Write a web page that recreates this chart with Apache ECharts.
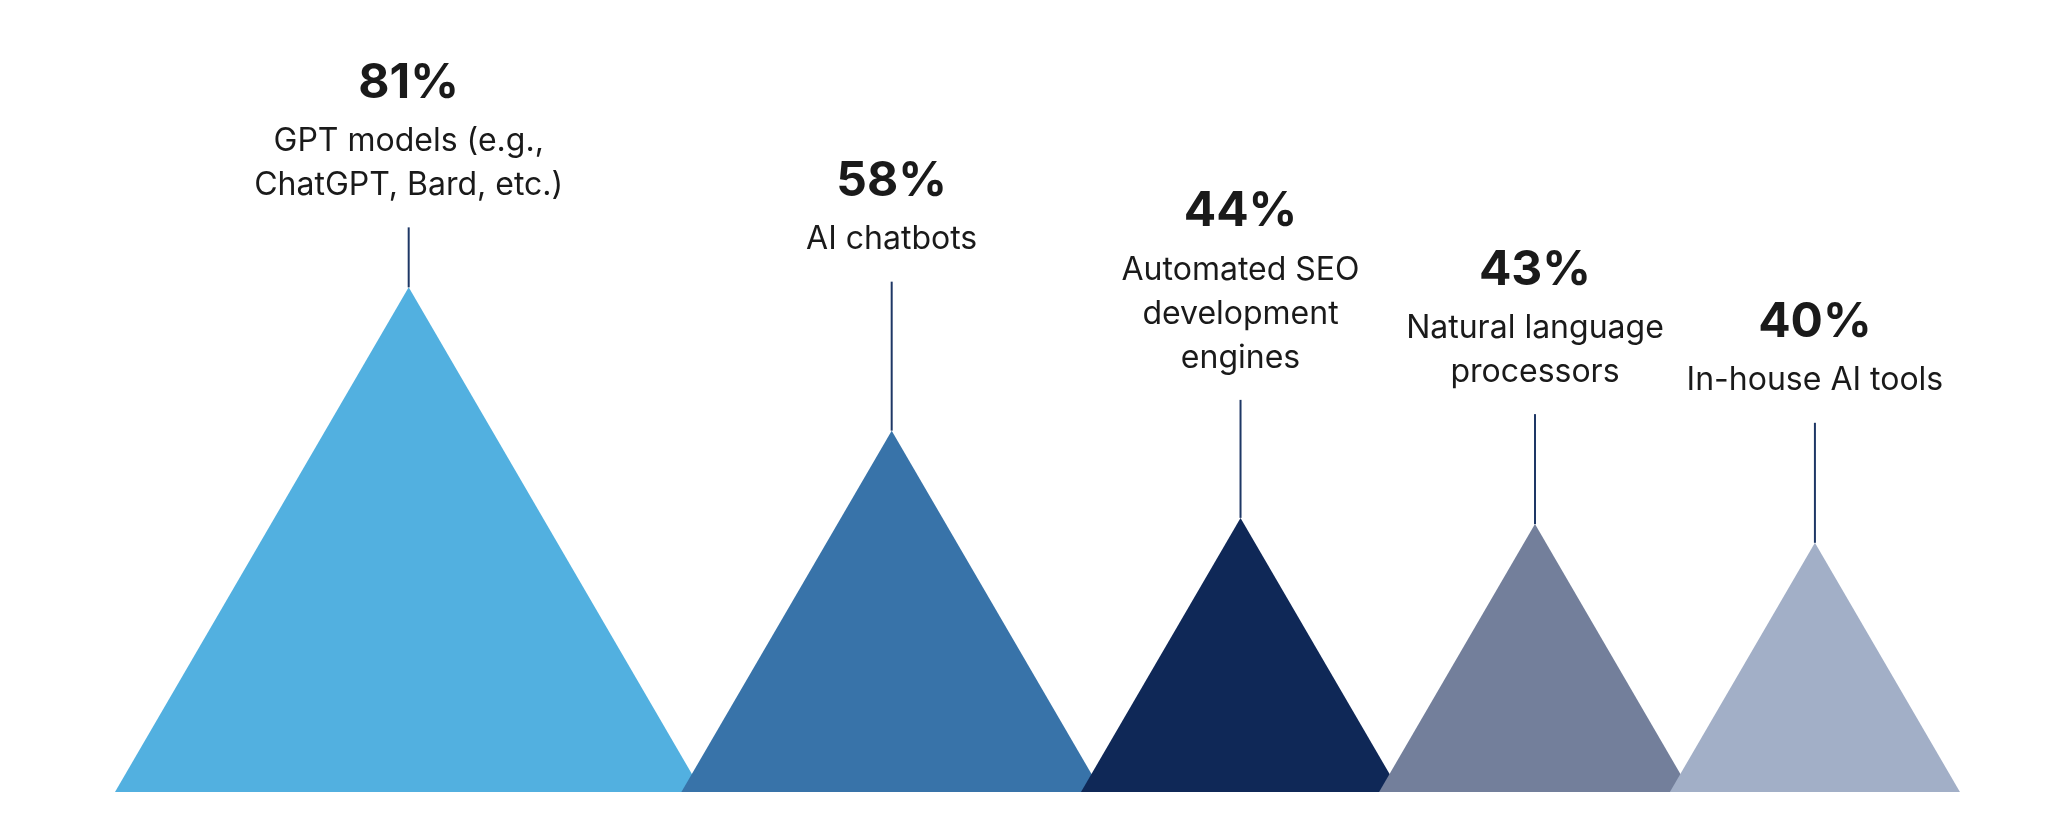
<!DOCTYPE html>
<html>
<head>
<meta charset="utf-8">
<script src="https://cdn.jsdelivr.net/npm/echarts@6/dist/echarts.min.js"></script>
<style>
  html, body { margin: 0; padding: 0; background: #ffffff; }
  #chart { width: 2060px; height: 830px; }
</style>
</head>
<body>
<div id="chart"></div>
<script>
// ---- data ----
const categories = [
  'GPT models (e.g.,\nChatGPT, Bard, etc.)',
  'AI chatbots',
  'Automated SEO\ndevelopment\nengines',
  'Natural language\nprocessors',
  'In-house AI tools'
];
const values = [81, 58, 44, 43, 40];

// ---- styles / layout ----
const colors = ['#52B0E0', '#3873A9', '#0F2857', '#737F9B', '#A2AFC7'];
const stemLength = [60, 149, 118, 110, 120]; // px above apex
const halfWidthRatio = 0.582; // base half-width relative to height
const overlap = 21;           // px overlap between neighbouring bases
const textColor = '#1a1a1a';
const stemColor = '#1E3765';
const pctFont = 'Inter, "Noto Sans", sans-serif';
const nameFont = 'Inter, "Noto Sans", sans-serif';

const chart = echarts.init(document.getElementById('chart'));

function renderItem(params, api) {
  const i = params.dataIndex;
  const base = api.coord([0, 0]);
  const gridLeft = params.coordSys.x;
  let left = gridLeft;
  for (let j = 0; j < i; j++) {
    const hj = base[1] - api.coord([0, values[j]])[1];
    left += 2 * hj * halfWidthRatio - overlap;
  }
  const top = api.coord([0, api.value(1)]);
  const h = base[1] - top[1];
  const hw = h * halfWidthRatio;
  const cx = left + hw;
  const stemTop = top[1] - stemLength[i];
  return {
    type: 'group',
    children: [
      {
        type: 'polygon',
        shape: { points: [[left, base[1]], [cx, top[1]], [left + 2 * hw, base[1]]] },
        style: { fill: colors[i] }
      },
      {
        type: 'line',
        shape: { x1: cx, y1: stemTop, x2: cx, y2: top[1] },
        style: { stroke: stemColor, lineWidth: 2 }
      },
      {
        type: 'text',
        x: cx,
        y: stemTop - 20,
        style: {
          text: '{p|' + api.value(1) + '%}\n{n|' + categories[i] + '}',
          align: 'center',
          verticalAlign: 'bottom',
          fill: textColor,
          rich: {
            p: { fontSize: 48, fontWeight: 'bold', lineHeight: 72, fontFamily: pctFont, fill: textColor, align: 'center' },
            n: { fontSize: 32, lineHeight: 44, fontFamily: nameFont, fill: textColor, align: 'center' }
          }
        }
      }
    ]
  };
}

chart.setOption({
  backgroundColor: '#ffffff',
  animation: false,
  grid: { left: 115, right: 60, top: 169, bottom: 38 },
  xAxis: { type: 'value', min: 0, max: 10, show: false },
  yAxis: { type: 'value', min: 0, max: 100, show: false },
  series: [{
    type: 'custom',
    clip: false,
    renderItem: renderItem,
    encode: { x: 0, y: 1 },
    data: values.map((v, i) => [i, v])
  }]
});
</script>
</body>
</html>
